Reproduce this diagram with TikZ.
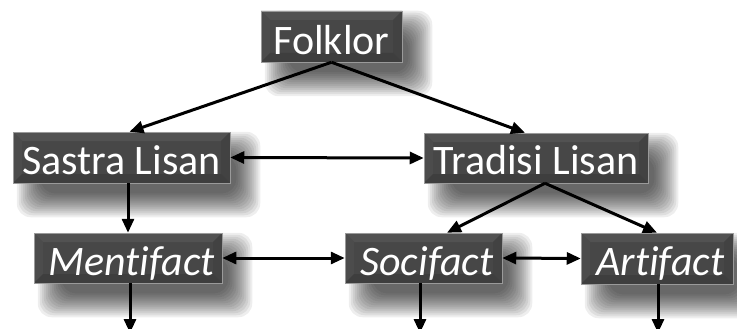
\documentclass[tikz,border=0pt]{standalone}
\usepackage{fontspec}
\setmainfont{Carlito}[Ligatures=NoCommon]
\usetikzlibrary{arrows.meta,backgrounds,calc}

\definecolor{faceC}{HTML}{474747}
\definecolor{topC}{HTML}{525252}
\definecolor{leftC}{HTML}{4C4C4C}
\definecolor{rightC}{HTML}{424242}
\definecolor{botC}{HTML}{3E3E3E}
\definecolor{edgeC}{HTML}{9A9A9A}

\tikzset{
  bevelbox/.style={
    rectangle, inner sep=0pt, fill=faceC, draw=edgeC, line width=0.5pt,
    text=white, font=\fontsize{42}{46}\selectfont,
    text height=35pt, text depth=1pt,
    path picture={
      \coordinate (bnw) at (path picture bounding box.north west);
      \coordinate (bne) at (path picture bounding box.north east);
      \coordinate (bsw) at (path picture bounding box.south west);
      \coordinate (bse) at (path picture bounding box.south east);
      \coordinate (inw) at ([xshift=9pt,yshift=-9pt]bnw);
      \coordinate (ine) at ([xshift=-9pt,yshift=-9pt]bne);
      \coordinate (isw) at ([xshift=9pt,yshift=9pt]bsw);
      \coordinate (ise) at ([xshift=-9pt,yshift=9pt]bse);
      \fill[topC] (bnw) -- (bne) -- (ine) -- (inw) -- cycle;
      \fill[leftC] (bnw) -- (inw) -- (isw) -- (bsw) -- cycle;
      \fill[rightC] (bne) -- (ine) -- (ise) -- (bse) -- cycle;
      \fill[botC] (bsw) -- (isw) -- (ise) -- (bse) -- cycle;
    }
  },
  shadowlayer/.style={fill=black, opacity=0.065, rounded corners=14pt},
  tip/.tip={Triangle[length=14pt,width=12pt]},
  link/.style={line width=3pt, -tip},
  twoway/.style={line width=3pt, tip-tip},
}

% soft drop shadow below and to the right of a box, built from stacked layers
\newcommand{\softshadow}[1]{%
  \foreach \e in {-8,-6,...,16}{%
    \fill[shadowlayer]
      ([xshift={(20-\e)*1pt},yshift={(-16+\e)*1pt}]#1.north west)
      rectangle
      ([xshift={(14+\e)*1pt},yshift={(-18-\e)*1pt}]#1.south east);
  }%
}

\begin{document}
\begin{tikzpicture}[x=1pt,y=-1pt]
  \useasboundingbox (0,0) rectangle (737,329);

  % boxes
  \node[bevelbox, minimum width=141pt, minimum height=51pt, text height=38pt] (folk) at (331.5,36.5) {Folklor};
  \node[bevelbox, minimum width=217pt, minimum height=51pt] (sastra) at (121.5,157.5) {Sastra Lisan};
  \node[bevelbox, minimum width=224pt, minimum height=50pt] (tradisi) at (536,158) {Tradisi Lisan};
  \node[bevelbox, minimum width=188pt, minimum height=50pt] (menti) at (128,258) {\itshape\,Mentifact};
  \node[bevelbox, minimum width=157pt, minimum height=50pt] (soci) at (423.5,258) {\itshape\,Socifact};
  \node[bevelbox, minimum width=152pt, minimum height=51pt] (arti) at (657,258.5) {\itshape\,Artifact};

  % shadows behind the boxes
  \begin{scope}[on background layer]
    \softshadow{folk}
    \softshadow{sastra}
    \softshadow{tradisi}
    \softshadow{menti}
    \softshadow{soci}
    \softshadow{arti}
  \end{scope}

  % loose ends of the downward arrows
  \coordinate (mout) at (130,333);
  \coordinate (sout) at (420,333);
  \coordinate (aout) at (658,333);

  % connectors
  \draw[link] (folk.south) -- ([xshift=8pt]sastra.north);
  \draw[link] (folk.south) -- ([xshift=-11pt]tradisi.north);
  \draw[twoway] (sastra.east) -- (tradisi.west);
  \draw[link] (sastra.south -| menti.north) -- (menti.north);
  \draw[link] ([xshift=9pt]tradisi.south) -- ([xshift=23.5pt]soci.north);
  \draw[link] ([xshift=9pt]tradisi.south) -- (arti.north);
  \draw[twoway] (menti.east) -- (soci.west);
  \draw[twoway] (soci.east) -- (arti.west);
  \draw[link] (menti.south -| mout) -- (mout);
  \draw[link] (soci.south -| sout) -- (sout);
  \draw[link] (arti.south -| aout) -- (aout);
\end{tikzpicture}
\end{document}
